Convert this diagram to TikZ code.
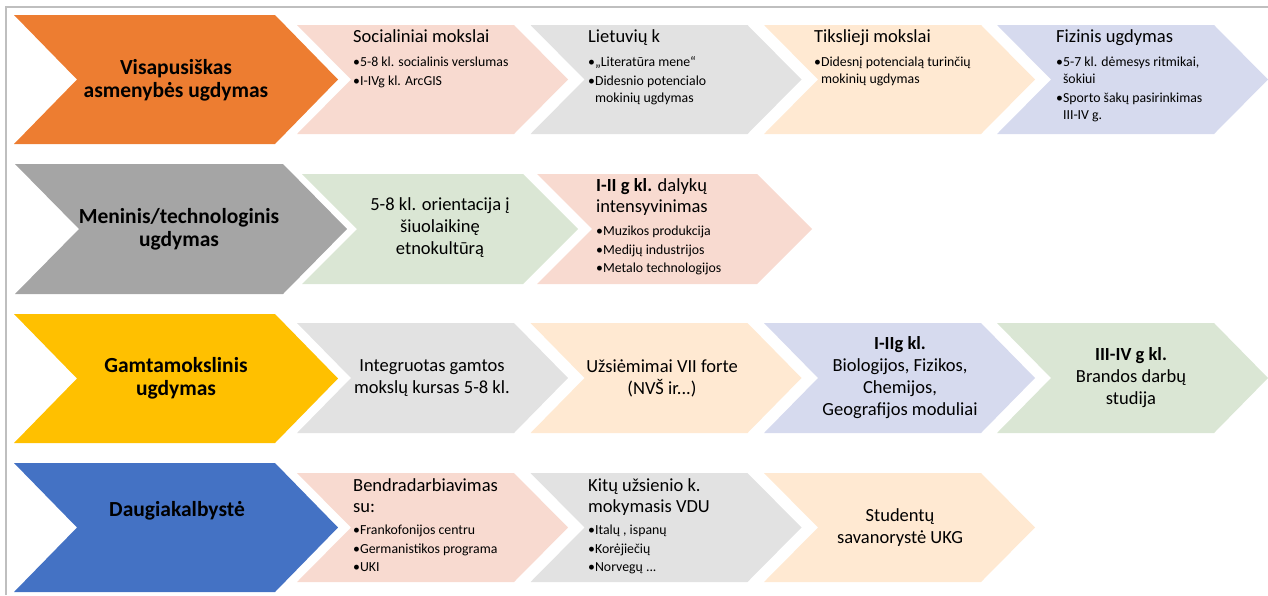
\documentclass[tikz,border=0pt]{standalone}
\usepackage{fontspec}
\setmainfont{Carlito}
\usepackage{xcolor}
\definecolor{Orange}{RGB}{237,125,49}
\definecolor{Grey}{RGB}{165,165,165}
\definecolor{Gold}{RGB}{255,192,0}
\definecolor{Blue}{RGB}{68,114,196}
\definecolor{Pink}{RGB}{248,218,208}
\definecolor{Silver}{RGB}{226,226,226}
\definecolor{Peach}{RGB}{255,233,210}
\definecolor{Lilac}{RGB}{214,218,238}
\definecolor{Mint}{RGB}{218,230,212}
\definecolor{Frame}{RGB}{191,191,191}
\usetikzlibrary{positioning}
\tikzstyle{bigtext} = [font=\fontsize{21.5}{23}\selectfont\bfseries, align=center]
\tikzstyle{headtext} = [font=\fontsize{18.5}{21}\selectfont, align=left,
    anchor=north west, inner sep=0pt, text depth=0.25em]
\tikzstyle{listtext} = [font=\fontsize{13.8}{17}\selectfont, align=left, inner sep=0pt]
\tikzstyle{bodytext} = [font=\fontsize{18.5}{22}\selectfont, align=center]
% chevron: left x, top y, width, height, point depth, colour
\newcommand{\chevron}[6]{%
  \fill[#6] (#1,#2) -- ++({#3-#5},0) -- ++(#5,{#4/2}) -- ++(-#5,{#4/2})
    -- ++({#5-#3},0) -- ++(#5,{-#4/2}) -- cycle;}

\begin{document}
\begin{tikzpicture}[x=1pt, y=-1pt]
  \useasboundingbox (0,0) rectangle (1268,595);
  \draw[Frame, line width=2pt] (6,595) -- (6,7) -- (1268,7);
  %
  \chevron{14}{15}{324}{129}{63}{Orange}
  \chevron{297}{25}{271}{109}{54}{Pink}
  \chevron{530.5}{25}{271}{109}{54}{Silver}
  \chevron{764}{25}{271}{109}{54}{Peach}
  \chevron{997}{25}{271}{109}{54}{Lilac}
  \node[bigtext] (Visa) at (176,80) {Visapusiškas\\asmenybės ugdymas};
  \node[headtext] (Soc) at (353,29) {Socialiniai mokslai};
  \node[listtext, below right=12pt and 0pt of Soc.south west] (SocList)
    {•5-8 kl. socialinis verslumas\\[1.5pt]•I-IVg kl. ArcGIS};
  \node[headtext] (Liet) at (588,29) {Lietuvių k};
  \node[listtext, below right=12pt and 0pt of Liet.south west] (LietList)
    {•„Literatūra mene“\\[1.5pt]•Didesnio potencialo\\\hphantom{•}mokinių ugdymas};
  \node[headtext] (Tiks) at (814,29) {Tikslieji mokslai};
  \node[listtext, below right=12pt and 0pt of Tiks.south west] (TiksList)
    {•Didesnį potencialą turinčių\\\hphantom{•}mokinių ugdymas};
  \node[headtext] (Fiz) at (1056,29) {Fizinis ugdymas};
  \node[listtext, below right=12pt and 0pt of Fiz.south west] (FizList)
    {•5-7 kl. dėmesys ritmikai,\\\hphantom{•}šokiui\\[1.5pt]•Sporto šakų pasirinkimas\\\hphantom{•}III-IV g.};
  %
  \chevron{15}{164}{332}{130}{64}{Grey}
  \chevron{302}{174}{276}{110}{55}{Mint}
  \chevron{537}{174}{275}{110}{55}{Pink}
  \node[bigtext] (Men) at (179,229) {Meninis/technologinis\\ugdymas};
  \node[bodytext] (Etno) at (440,228) {5-8 kl. orientacija į\\šiuolaikinę\\etnokultūrą};
  \node[headtext] (Dal) at (596,178) {\textbf{I-II g kl.} dalykų\\intensyvinimas};
  \node[listtext, below right=11pt and 0pt of Dal.south west] (DalList)
    {•Muzikos produkcija\\[1.5pt]•Medijų industrijos\\[1.5pt]•Metalo technologijos};
  %
  \chevron{14}{314}{324}{129}{63}{Gold}
  \chevron{297}{323}{271}{110}{54}{Silver}
  \chevron{530.5}{323}{271}{110}{54}{Peach}
  \chevron{764}{323}{271}{110}{54}{Lilac}
  \chevron{997}{323}{271}{110}{54}{Mint}
  \node[bigtext] (Gamta) at (176,378) {Gamtamokslinis\\ugdymas};
  \node[bodytext] (Integr) at (432,378) {Integruotas gamtos\\mokslų kursas 5-8 kl.};
  \node[bodytext] (Forte) at (662,378) {Užsiėmimai VII forte\\(NVŠ ir...)};
  \node[bodytext] (Modul) at (900,378) {\textbf{I-IIg kl.}\\Biologijos, Fizikos,\\Chemijos,\\Geografijos moduliai};
  \node[bodytext] (Brand) at (1131,378) {\textbf{III-IV g kl.}\\Brandos darbų\\studija};
  %
  \chevron{14}{463}{324}{129}{63}{Blue}
  \chevron{297}{473}{271}{109}{54}{Pink}
  \chevron{530.5}{473}{271}{109}{54}{Silver}
  \chevron{764}{473}{271}{109}{54}{Peach}
  \node[bigtext] (Daug) at (177,511) {Daugiakalbystė};
  \node[headtext] (Bendr) at (353,478) {Bendradarbiavimas\\su:};
  \node[listtext, below right=10pt and 0pt of Bendr.south west] (BendrList)
    {•Frankofonijos centru\\[1.5pt]•Germanistikos programa\\[1.5pt]•UKI};
  \node[headtext] (Kitu) at (588,478) {Kitų užsienio k.\\mokymasis VDU};
  \node[listtext, below right=10pt and 0pt of Kitu.south west] (KituList)
    {•Italų , ispanų\\[1.5pt]•Korėjiečių\\[1.5pt]•Norvegų ...};
  \node[bodytext] (Stud) at (900,528) {Studentų\\savanorystė UKG};
\end{tikzpicture}
\end{document}
